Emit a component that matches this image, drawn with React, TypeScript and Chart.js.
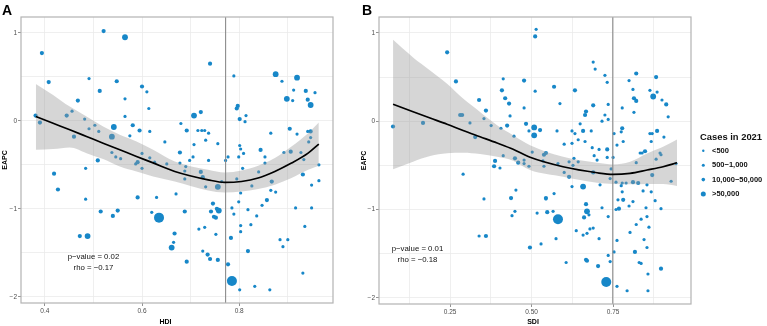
import { useEffect, useRef } from "react";
import { Chart, registerables } from "chart.js";

Chart.register(...registerables);

const FONT = "'Liberation Sans', Arial, Helvetica, sans-serif";
const POINT_BLUE = "#1787c8";
const MINUS = "\u2212";

// ---- shared axis settings ----
const eapcMin = -2.07;
const eapcMax = 1.18;
const eapcMajorTicks = [-2, -1, 0, 1];
const eapcMinorTicks = [-1.5, -0.5, 0.5];

const hdiMin = 0.351;
const hdiMax = 0.993;
const hdiMajorTicks = [0.4, 0.6, 0.8];
const hdiMinorTicks = [0.5, 0.7, 0.9];

const sdiMin = 0.032;
const sdiMax = 0.989;
const sdiMajorTicks = [0.25, 0.5, 0.75];
const sdiMinorTicks = [0.125, 0.375, 0.625, 0.875];

// size classes of "Cases in 2021"
const caseClasses = ["<500", `500${MINUS}1,000`, `10,000${MINUS}50,000`, ">50,000"];
const caseRadius = [1.6, 2.1, 2.9, 5];
const legendRadius = [1.2, 1.5, 1.8, 2.5];

// ---- panel A: HDI vs EAPC ----
const hdiCutoff = 0.772;
const hdiStats = ["p\u2212value = 0.02", `rho = ${MINUS}0.17`];

// [HDI, EAPC, case class]
const hdiPoints: [number, number, number][] = [
  [0.521, 1.02, 1], [0.565, 0.95, 2], [0.394, 0.77, 1], [0.408, 0.44, 1], [0.491, 0.48, 0],
  [0.548, 0.45, 1], [0.513, 0.34, 1], [0.6, 0.39, 1], [0.61, 0.33, 0], [0.565, 0.25, 0],
  [0.468, 0.23, 1], [0.456, 0.11, 0], [0.614, 0.14, 0], [0.381, 0.06, 1], [0.39, -0.02, 1],
  [0.445, 0.06, 1], [0.482, 0.02, 0], [0.565, 0.05, 0], [0.707, 0.06, 2], [0.721, 0.1, 1],
  [0.542, -0.07, 2], [0.538, -0.18, 2], [0.491, -0.09, 0], [0.503, -0.05, 0], [0.511, -0.12, 0],
  [0.46, -0.18, 1], [0.581, -0.05, 1], [0.595, -0.11, 1], [0.616, -0.12, 0], [0.575, -0.17, 0],
  [0.68, -0.03, 0], [0.692, -0.11, 1], [0.647, -0.24, 0], [0.707, -0.27, 0], [0.678, -0.36, 1],
  [0.705, -0.41, 0], [0.538, -0.36, 0], [0.546, -0.41, 0], [0.556, -0.43, 0], [0.6, -0.37, 0],
  [0.616, -0.42, 0], [0.626, -0.47, 0], [0.591, -0.47, 1], [0.587, -0.49, 0], [0.509, -0.45, 1],
  [0.484, -0.54, 0], [0.651, -0.49, 0], [0.678, -0.48, 0], [0.698, -0.45, 0], [0.69, -0.52, 0],
  [0.419, -0.6, 1], [0.6, -0.54, 0], [0.688, -0.57, 0], [0.427, -0.78, 1], [0.484, -0.89, 0],
  [0.591, -0.87, 1], [0.63, -0.87, 0], [0.67, -0.83, 0], [0.688, -0.66, 0], [0.515, -1.03, 1],
  [0.55, -1.02, 1], [0.54, -1.08, 1], [0.62, -1.04, 0], [0.635, -1.1, 3], [0.688, -1.03, 1],
  [0.472, -1.31, 1], [0.488, -1.31, 2], [0.667, -1.28, 1], [0.665, -1.38, 0], [0.661, -1.44, 2],
  [0.692, -1.6, 1],
  [0.74, 0.65, 1], [0.789, 0.51, 0], [0.875, 0.53, 2], [0.888, 0.45, 0], [0.919, 0.49, 2],
  [0.912, 0.35, 0], [0.937, 0.34, 1], [0.956, 0.32, 0], [0.898, 0.25, 2], [0.91, 0.23, 0],
  [0.941, 0.24, 1], [0.947, 0.18, 2], [0.797, 0.17, 1], [0.795, 0.14, 1], [0.801, 0.02, 1],
  [0.814, 0.06, 0], [0.812, -0.01, 0], [0.715, -0.11, 0], [0.723, -0.11, 0], [0.729, -0.11, 0],
  [0.737, -0.14, 0], [0.731, -0.22, 0], [0.756, -0.26, 0], [0.737, -0.45, 0], [0.772, -0.45, 0],
  [0.777, -0.41, 0], [0.799, -0.41, 0], [0.801, -0.28, 0], [0.803, -0.32, 0], [0.809, -0.37, 0],
  [0.844, -0.33, 1], [0.853, -0.41, 0], [0.853, -0.48, 0], [0.865, -0.14, 0], [0.904, -0.09, 1],
  [0.919, -0.15, 0], [0.941, -0.12, 0], [0.947, -0.12, 1], [0.947, -0.19, 0], [0.943, -0.24, 0],
  [0.906, -0.35, 1], [0.892, -0.36, 0], [0.927, -0.36, 0], [0.933, -0.44, 0], [0.964, -0.5, 0],
  [0.807, -0.54, 0], [0.84, -0.58, 0], [0.721, -0.58, 1], [0.725, -0.64, 1], [0.731, -0.75, 0],
  [0.756, -0.75, 2], [0.764, -0.69, 0], [0.795, -0.66, 0], [0.826, -0.74, 0], [0.867, -0.69, 1],
  [0.803, -0.82, 0], [0.865, -0.79, 0], [0.875, -0.81, 0], [0.931, -0.61, 1], [0.949, -0.73, 0],
  [0.964, -0.68, 0], [0.746, -0.94, 1], [0.742, -1.03, 1], [0.754, -1.0, 1], [0.758, -1.02, 2],
  [0.748, -1.09, 1], [0.752, -1.1, 1], [0.785, -0.99, 0], [0.789, -1.06, 0], [0.799, -0.92, 0],
  [0.818, -1.01, 0], [0.836, -1.08, 0], [0.847, -0.96, 0], [0.857, -0.9, 1], [0.916, -0.99, 0],
  [0.949, -0.99, 0], [0.717, -1.23, 0], [0.729, -1.21, 0], [0.752, -1.29, 0], [0.783, -1.33, 1],
  [0.803, -1.19, 0], [0.803, -1.26, 0], [0.824, -1.18, 0], [0.884, -1.35, 0], [0.9, -1.35, 0],
  [0.89, -1.43, 0], [0.935, -1.2, 0], [0.725, -1.48, 0], [0.735, -1.52, 1], [0.74, -1.57, 1],
  [0.756, -1.58, 1], [0.818, -1.48, 1], [0.777, -1.63, 1], [0.785, -1.82, 3], [0.801, -1.92, 0],
  [0.832, -1.88, 0], [0.863, -1.92, 0], [0.931, -1.73, 0],
];

// smoothed fit with confidence band
const hdiFitX = [0.3815, 0.417, 0.4514, 0.4858, 0.52, 0.5543, 0.5887, 0.6228, 0.6675, 0.736, 0.7704, 0.8047, 0.8389, 0.8733, 0.9076, 0.9418, 0.9638];
const hdiFit = [0.049, -0.028, -0.102, -0.178, -0.254, -0.329, -0.405, -0.478, -0.575, -0.67, -0.7, -0.689, -0.65, -0.575, -0.48, -0.367, -0.264];
const hdiUpper = [0.42, 0.295, 0.162, 0.049, -0.065, -0.159, -0.235, -0.329, -0.462, -0.556, -0.587, -0.564, -0.511, -0.423, -0.292, -0.14, -0.019];
const hdiLower = [-0.329, -0.321, -0.303, -0.367, -0.435, -0.519, -0.576, -0.632, -0.689, -0.791, -0.814, -0.802, -0.775, -0.726, -0.65, -0.556, -0.511];

// ---- panel B: SDI vs EAPC ----
const sdiCutoff = 0.749;
const sdiStats = ["p\u2212value = 0.01", `rho = ${MINUS}0.18`];

// [SDI, EAPC, case class]
const sdiPoints: [number, number, number][] = [
  [0.514, 1.04, 0], [0.511, 0.96, 1], [0.241, 0.78, 1], [0.268, 0.45, 1], [0.413, 0.48, 0],
  [0.477, 0.46, 1], [0.409, 0.35, 1], [0.511, 0.34, 0], [0.569, 0.39, 1], [0.419, 0.26, 1],
  [0.431, 0.2, 1], [0.339, 0.24, 1], [0.36, 0.12, 1], [0.477, 0.15, 0], [0.434, 0.06, 0],
  [0.354, 0.03, 0], [0.281, 0.07, 1], [0.287, 0.07, 1], [0.311, -0.02, 0], [0.376, -0.05, 0],
  [0.406, -0.08, 0], [0.425, -0.05, 1], [0.483, -0.03, 1], [0.508, -0.07, 2], [0.526, -0.1, 1],
  [0.508, -0.16, 2], [0.492, -0.11, 0], [0.578, -0.11, 0], [0.446, -0.17, 0], [0.327, -0.18, 1],
  [0.075, -0.06, 1], [0.167, -0.02, 1], [0.502, -0.35, 0], [0.538, -0.38, 1], [0.544, -0.36, 1],
  [0.413, -0.39, 0], [0.449, -0.42, 1], [0.459, -0.47, 1], [0.388, -0.45, 1], [0.385, -0.51, 1],
  [0.403, -0.53, 0], [0.477, -0.44, 0], [0.477, -0.48, 0], [0.492, -0.51, 0], [0.535, -0.45, 0],
  [0.538, -0.51, 0], [0.587, 0.2, 0], [0.689, 0.67, 0], [0.695, 0.59, 0], [0.725, 0.52, 0],
  [0.732, 0.44, 0], [0.633, 0.35, 1], [0.799, 0.46, 0], [0.821, 0.54, 1], [0.882, 0.5, 1],
  [0.811, 0.36, 0], [0.814, 0.26, 1], [0.821, 0.23, 1], [0.863, 0.35, 0], [0.885, 0.33, 0],
  [0.873, 0.28, 2], [0.9, 0.24, 0], [0.913, 0.19, 1], [0.919, 0.05, 0], [0.689, 0.18, 1],
  [0.735, 0.19, 0], [0.667, 0.11, 1], [0.664, 0.07, 1], [0.725, 0.07, 0], [0.735, 0.02, 0],
  [0.716, 0.0, 0], [0.778, 0.15, 0], [0.814, 0.1, 0], [0.649, -0.03, 0], [0.658, -0.11, 1],
  [0.683, -0.11, 0], [0.624, -0.11, 0], [0.633, -0.14, 0], [0.643, -0.21, 0], [0.624, -0.25, 0],
  [0.6, -0.26, 0], [0.664, -0.23, 0], [0.686, -0.3, 0], [0.778, -0.08, 1], [0.775, -0.12, 0],
  [0.753, -0.14, 0], [0.781, -0.23, 0], [0.762, -0.27, 0], [0.732, -0.32, 1], [0.707, -0.32, 0],
  [0.692, -0.39, 0], [0.701, -0.44, 0], [0.732, -0.41, 0], [0.75, -0.41, 0], [0.833, -0.36, 0],
  [0.839, -0.36, 0], [0.848, -0.34, 1], [0.863, -0.14, 0], [0.87, -0.14, 0], [0.885, -0.11, 1],
  [0.906, -0.18, 0], [0.867, -0.23, 0], [0.894, -0.36, 0], [0.897, -0.38, 0], [0.882, -0.43, 0],
  [0.821, -0.47, 0], [0.63, -0.42, 0], [0.615, -0.46, 0], [0.581, -0.48, 0], [0.943, -0.48, 0],
  [0.643, -0.46, 0], [0.627, -0.5, 0], [0.6, -0.58, 0], [0.615, -0.63, 1], [0.689, -0.58, 1],
  [0.744, -0.54, 0], [0.741, -0.65, 0], [0.759, -0.69, 0], [0.778, -0.7, 0], [0.79, -0.7, 0],
  [0.811, -0.69, 1], [0.827, -0.7, 1], [0.87, -0.61, 1], [0.928, -0.68, 0], [0.658, -0.74, 2],
  [0.624, -0.74, 0], [0.71, -0.72, 0], [0.775, -0.73, 0], [0.778, -0.8, 0], [0.854, -0.72, 0],
  [0.842, -0.79, 0], [0.867, -0.8, 0], [0.569, -0.82, 0], [0.544, -0.87, 1], [0.781, -0.89, 1],
  [0.765, -0.89, 0], [0.811, -0.91, 0], [0.879, -0.9, 0], [0.667, -0.94, 1], [0.799, -0.96, 0],
  [0.716, -0.98, 0], [0.768, -0.99, 1], [0.759, -1.0, 0], [0.851, -0.98, 0], [0.897, -0.99, 0],
  [0.548, -1.03, 1], [0.566, -1.02, 0], [0.67, -1.02, 2], [0.676, -1.06, 0], [0.661, -1.09, 1],
  [0.581, -1.11, 3], [0.735, -1.08, 0], [0.836, -1.11, 0], [0.854, -1.08, 0], [0.821, -1.17, 0],
  [0.86, -1.2, 0], [0.689, -1.21, 0], [0.679, -1.22, 0], [0.637, -1.24, 0], [0.67, -1.27, 0],
  [0.658, -1.29, 0], [0.802, -1.26, 0], [0.707, -1.33, 0], [0.762, -1.35, 0], [0.845, -1.34, 0],
  [0.575, -1.33, 0], [0.529, -1.39, 0], [0.854, -1.43, 0], [0.753, -1.48, 0], [0.817, -1.48, 1],
  [0.735, -1.52, 0], [0.667, -1.57, 1], [0.67, -1.58, 1], [0.606, -1.6, 0], [0.704, -1.64, 1],
  [0.741, -1.59, 0], [0.83, -1.6, 0], [0.836, -1.61, 0], [0.897, -1.67, 1], [0.857, -1.73, 0],
  [0.729, -1.82, 3], [0.762, -1.87, 0], [0.793, -1.92, 0], [0.857, -1.92, 0], [0.29, -0.6, 0],
  [0.452, -0.78, 0], [0.354, -0.88, 0], [0.437, -0.87, 1], [0.544, -0.88, 0], [0.449, -1.02, 0],
  [0.44, -1.07, 0], [0.517, -1.04, 0], [0.339, -1.3, 0], [0.36, -1.3, 1], [0.495, -1.43, 1],
];

const sdiFitX = [0.0752, 0.1365, 0.1887, 0.2408, 0.2899, 0.342, 0.3942, 0.4433, 0.4954, 0.5966, 0.7009, 0.75, 0.8021, 0.8543, 0.9034, 0.9463];
const sdiFit = [0.192, 0.107, 0.036, -0.034, -0.105, -0.176, -0.247, -0.318, -0.409, -0.516, -0.584, -0.602, -0.59, -0.553, -0.516, -0.47];
const sdiUpper = [0.921, 0.722, 0.575, 0.425, 0.256, 0.105, -0.045, -0.158, -0.271, -0.403, -0.471, -0.489, -0.459, -0.365, -0.29, -0.206];
const sdiLower = [-0.545, -0.459, -0.395, -0.364, -0.357, -0.372, -0.403, -0.448, -0.553, -0.628, -0.696, -0.711, -0.714, -0.711, -0.711, -0.733];

type PanelSpec = {
  letter: string;
  xTitle: string;
  xMin: number;
  xMax: number;
  xMajor: number[];
  xMinor: number[];
  xDigits: number;
  cutoff: number;
  points: [number, number, number][];
  fitX: number[];
  fit: number[];
  upper: number[];
  lower: number[];
  stats: string[];
  // layout (canvas pixels)
  canvasWidth: number;
  yAxisWidth: number;
  xAxisHeight: number;
  padRight: number;
  xTitleX: number;
  yTitleX: number;
  statsX: number;
  statsY: number;
  showLegend: boolean;
};

const near = (arr: number[], v: number) => arr.some((a) => Math.abs(a - v) < 1e-9);

const fmtSigned = (v: number, digits: number) => {
  const s = Math.abs(v).toFixed(digits);
  return v < 0 ? MINUS + s : s;
};

function decorPlugin(p: PanelSpec) {
  return {
    id: "panelDecor",
    afterDraw(chart: any) {
      const { ctx, chartArea: a } = chart;
      ctx.save();
      // panel border
      ctx.strokeStyle = "#b3b3b3";
      ctx.lineWidth = 1.2;
      ctx.strokeRect(a.left, a.top, a.right - a.left, a.bottom - a.top);

      // panel letter
      ctx.fillStyle = "#000";
      ctx.textAlign = "left";
      ctx.textBaseline = "alphabetic";
      ctx.font = `bold 14px ${FONT}`;
      ctx.fillText(p.letter, 2, 15);

      // axis titles
      ctx.font = `bold 7px ${FONT}`;
      ctx.textAlign = "center";
      ctx.textBaseline = "middle";
      ctx.fillText(p.xTitle, p.xTitleX, 322);
      ctx.save();
      ctx.translate(p.yTitleX, (a.top + a.bottom) / 2);
      ctx.rotate(-Math.PI / 2);
      ctx.fillText("EAPC", 0, 0);
      ctx.restore();

      // correlation statistics
      ctx.font = `7.8px ${FONT}`;
      ctx.fillStyle = "#111";
      p.stats.forEach((t, i) => ctx.fillText(t, p.statsX, p.statsY + i * 11));

      if (p.showLegend) {
        const lx = a.right + 9;
        ctx.textAlign = "left";
        ctx.fillStyle = "#111";
        ctx.font = `bold 9.4px ${FONT}`;
        ctx.fillText("Cases in 2021", lx, 137);
        ctx.font = `bold 7.5px ${FONT}`;
        caseClasses.forEach((label, i) => {
          const cy = 150.7 + i * 14.45;
          ctx.fillStyle = POINT_BLUE;
          ctx.beginPath();
          ctx.arc(lx + 3.3, cy, legendRadius[i], 0, Math.PI * 2);
          ctx.fill();
          ctx.fillStyle = "#111";
          ctx.fillText(label, lx + 12, cy);
        });
      }
      ctx.restore();
    },
  };
}

function buildConfig(p: PanelSpec): any {
  const band = "rgba(153,153,153,0.4)";
  const none = "rgba(0,0,0,0)";
  const gridColor = "#ebebeb";
  return {
    type: "scatter",
    data: {
      datasets: [
        {
          type: "line",
          data: p.fitX.map((x, i) => ({ x, y: p.fit[i] })),
          borderColor: "#000",
          borderWidth: 1.7,
          pointRadius: 0,
          cubicInterpolationMode: "monotone",
          fill: false,
          order: 0,
        },
        {
          type: "line",
          data: [
            { x: p.cutoff, y: eapcMin },
            { x: p.cutoff, y: eapcMax },
          ],
          borderColor: "#8c8c8c",
          borderWidth: 1.1,
          pointRadius: 0,
          fill: false,
          order: 1,
        },
        {
          type: "line",
          data: p.fitX.map((x, i) => ({ x, y: p.upper[i] })),
          borderColor: none,
          borderWidth: 1,
          pointRadius: 0,
          cubicInterpolationMode: "monotone",
          backgroundColor: band,
          fill: "+1",
          order: 2,
        },
        {
          type: "line",
          data: p.fitX.map((x, i) => ({ x, y: p.lower[i] })),
          borderColor: none,
          borderWidth: 1,
          pointRadius: 0,
          cubicInterpolationMode: "monotone",
          fill: false,
          order: 2,
        },
        {
          type: "scatter",
          data: p.points.map(([x, y, c]) => ({ x, y, c })),
          pointRadius: (ctx: any) => caseRadius[ctx.raw ? ctx.raw.c : 0],
          pointBackgroundColor: POINT_BLUE,
          pointBorderWidth: 0,
          pointBorderColor: none,
          order: 3,
        },
      ],
    },
    options: {
      responsive: false,
      devicePixelRatio: 1,
      animation: false,
      events: [],
      layout: { padding: { left: 0, top: 17, right: p.padRight, bottom: 0 } },
      plugins: { legend: { display: false }, tooltip: { enabled: false } },
      scales: {
        x: {
          type: "linear",
          min: p.xMin,
          max: p.xMax,
          afterBuildTicks: (axis: any) => {
            axis.ticks = [...p.xMajor, ...p.xMinor].sort((m, n) => m - n).map((v) => ({ value: v }));
          },
          afterFit: (scale: any) => {
            scale.height = p.xAxisHeight;
          },
          ticks: {
            autoSkip: false,
            maxRotation: 0,
            padding: 1,
            color: "#4d4d4d",
            font: { family: FONT, size: 6.5 },
            callback: (v: number) => (near(p.xMajor, v) ? v.toFixed(p.xDigits) : ""),
          },
          grid: {
            color: gridColor,
            lineWidth: 0.8,
            tickLength: 3,
            tickWidth: 0.8,
            tickColor: (ctx: any) => (ctx.tick && near(p.xMajor, ctx.tick.value) ? "#777" : none),
          },
          border: { display: false },
        },
        y: {
          type: "linear",
          min: eapcMin,
          max: eapcMax,
          afterBuildTicks: (axis: any) => {
            axis.ticks = [...eapcMajorTicks, ...eapcMinorTicks].sort((m, n) => m - n).map((v) => ({ value: v }));
          },
          afterFit: (scale: any) => {
            scale.width = p.yAxisWidth;
          },
          ticks: {
            autoSkip: false,
            padding: 1,
            color: "#4d4d4d",
            font: { family: FONT, size: 6.5 },
            callback: (v: number) => (near(eapcMajorTicks, v) ? fmtSigned(v, 0) : ""),
          },
          grid: {
            color: gridColor,
            lineWidth: 0.8,
            tickLength: 3,
            tickWidth: 0.8,
            tickColor: (ctx: any) => (ctx.tick && near(eapcMajorTicks, ctx.tick.value) ? "#777" : none),
          },
          border: { display: false },
        },
      },
    },
    plugins: [decorPlugin(p)],
  };
}

const panelA: PanelSpec = {
  letter: "A",
  xTitle: "HDI",
  xMin: hdiMin,
  xMax: hdiMax,
  xMajor: hdiMajorTicks,
  xMinor: hdiMinorTicks,
  xDigits: 1,
  cutoff: hdiCutoff,
  points: hdiPoints,
  fitX: hdiFitX,
  fit: hdiFit,
  upper: hdiUpper,
  lower: hdiLower,
  stats: hdiStats,
  canvasWidth: 360,
  yAxisWidth: 21,
  xAxisHeight: 23,
  padRight: 27,
  xTitleX: 165.5,
  yTitleX: 4.8,
  statsX: 93.5,
  statsY: 257,
  showLegend: false,
};

const panelB: PanelSpec = {
  letter: "B",
  xTitle: "SDI",
  xMin: sdiMin,
  xMax: sdiMax,
  xMajor: sdiMajorTicks,
  xMinor: sdiMinorTicks,
  xDigits: 2,
  cutoff: sdiCutoff,
  points: sdiPoints,
  fitX: sdiFitX,
  fit: sdiFit,
  upper: sdiUpper,
  lower: sdiLower,
  stats: sdiStats,
  canvasWidth: 407,
  yAxisWidth: 19,
  xAxisHeight: 22,
  padRight: 76,
  xTitleX: 173,
  yTitleX: 4.2,
  statsX: 57.5,
  statsY: 249,
  showLegend: true,
};

function Panel({ spec, left }: { spec: PanelSpec; left: number }) {
  const ref = useRef<HTMLCanvasElement>(null);
  useEffect(() => {
    if (!ref.current) return;
    const chart = new Chart(ref.current, buildConfig(spec));
    return () => chart.destroy();
  }, [spec]);
  return (
    <canvas
      ref={ref}
      width={spec.canvasWidth}
      height={326}
      style={{ position: "absolute", left, top: 0, width: spec.canvasWidth, height: 326 }}
    />
  );
}

export default function App() {
  return (
    <div style={{ position: "fixed", left: 0, top: 0, width: 767, height: 326, background: "#fff", overflow: "hidden" }}>
      <Panel spec={panelA} left={0} />
      <Panel spec={panelB} left={360} />
    </div>
  );
}
